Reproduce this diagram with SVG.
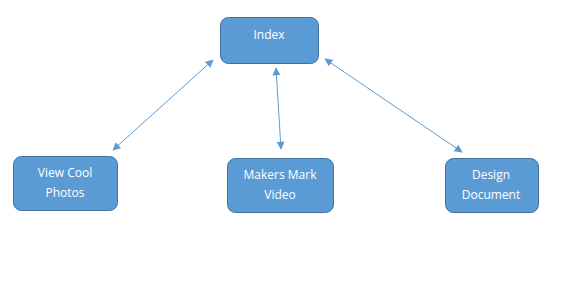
<svg xmlns="http://www.w3.org/2000/svg" width="563" height="294" viewBox="0 0 563 294">
  <style>
    .node rect { fill: #5B9BD5; stroke: #41719C; stroke-width: 1; }
    .node text { fill: #FFFFFF; font-family: "Open Sans", "Liberation Sans", sans-serif; font-size: 12px; text-anchor: middle; }
    .links line { stroke: #5B9BD5; stroke-width: 1; marker-start: url(#head); marker-end: url(#head); }
  </style>
  <defs>
    <marker id="head" viewBox="0 0 10 10" refX="9" refY="5" markerWidth="10" markerHeight="8" markerUnits="userSpaceOnUse" orient="auto-start-reverse">
      <path d="M0,0 L10,5 L0,10 z" fill="#5B9BD5"/>
    </marker>
  </defs>
  <rect width="563" height="294" fill="#FFFFFF"/>
  <g class="links">
    <line x1="213" y1="60" x2="113" y2="150"/>
    <line x1="276" y1="68" x2="281" y2="149"/>
    <line x1="325" y1="59" x2="462" y2="152"/>
  </g>
  <g id="index" class="node">
    <rect x="220.5" y="17.5" width="98" height="46" rx="8"/>
    <text x="269" y="39">Index</text>
  </g>
  <g id="view-cool-photos" class="node">
    <rect x="13.5" y="156.5" width="104" height="54" rx="8"/>
    <text x="65" y="177">View Cool</text>
    <text x="65" y="197">Photos</text>
  </g>
  <g id="makers-mark-video" class="node">
    <rect x="227.5" y="158.5" width="106" height="54" rx="8"/>
    <text x="280" y="179">Makers Mark</text>
    <text x="280" y="199">Video</text>
  </g>
  <g id="design-document" class="node">
    <rect x="445.5" y="158.5" width="93" height="54" rx="8"/>
    <text x="491" y="179">Design</text>
    <text x="491" y="199">Document</text>
  </g>
</svg>
